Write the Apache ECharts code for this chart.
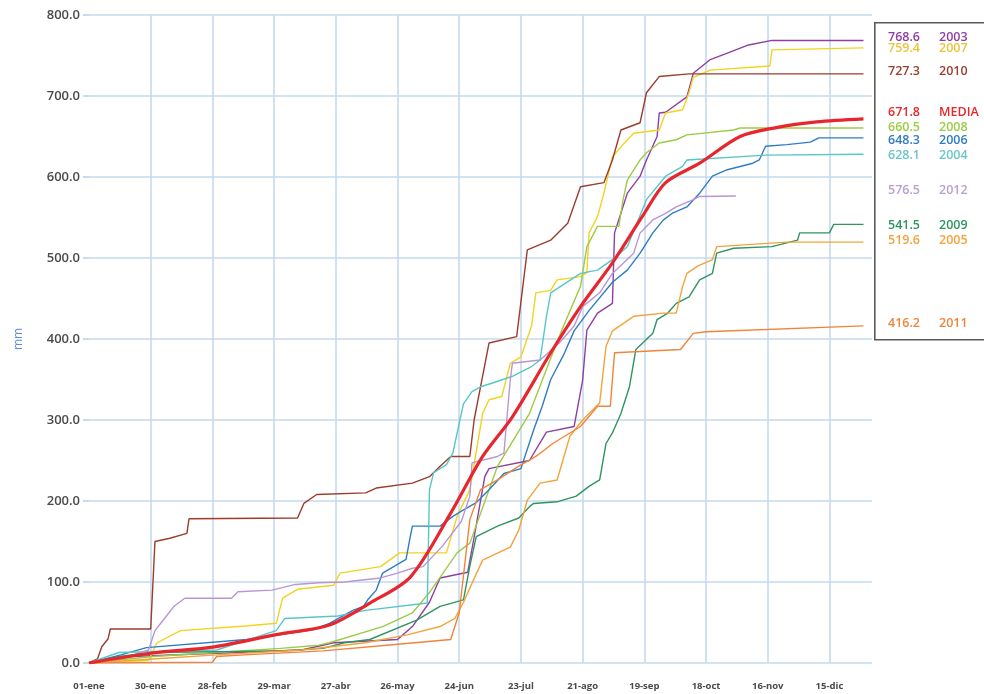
<!doctype html>
<html>
<head>
<meta charset="utf-8">
<script src="https://cdn.jsdelivr.net/npm/echarts@6/dist/echarts.min.js"></script>
<style>
    html, body { margin: 0; padding: 0; background: #fff; }
    #main { width: 984px; height: 694px; }
</style>
</head>
<body>
<div id="main"></div>
<script>
// x axis: day of year, ticks every 29 days
var tickLabels = ['01-ene', '30-ene', '28-feb', '29-mar', '27-abr', '26-may', '24-jun',
    '23-jul', '21-ago', '19-sep', '18-oct', '16-nov', '15-dic'];

// cumulative precipitation, [day, mm]
var s2003 = [[0,0],[20,8],[60,12],[100,16],[115,25],[145,29],[152,45],[160,75],[165,105],[178,112],[182,170],[186,230],[188,240],[207,250],[215,285],[228,292],[232,349],[234,411],[239,432],[246,444],[247,531],[253,580],[259,601],[262,621],[267,650],[268,679],[271,680],[281,699],[284,728],[292,745],[300,753],[310,763],[321,768.6],[364,768.6]];
var s2007 = [[0,0],[28,3],[32,25],[43,40],[75,46],[88,49],[91,80],[98,91],[115,96],[118,111],[137,119],[146,136],[168,136],[173,181],[179,214],[185,308],[188,325],[194,329],[198,370],[203,378],[208,416],[210,457],[217,460],[220,473],[231,477],[234,482],[235,531],[239,551],[242,580],[246,625],[251,640],[256,654],[268,658],[271,679],[279,683],[282,704],[284,723],[292,732],[320,737],[321,757],[364,759.4]];
var s2010 = [[0,0],[4,5],[6,20],[9,30],[10,42],[29,42],[31,150],[38,154],[46,160],[47,178],[98,179],[101,197],[107,208],[130,210],[135,216],[152,222],[160,230],[165,243],[170,255],[179,255],[181,300],[188,395],[201,403],[206,510],[217,522],[225,543],[231,588],[242,593],[246,621],[250,658],[259,667],[262,704],[268,724],[282,727.3],[364,727.3]];
var sMedia = [[0,0],[29,12],[59,20],[88,35],[113,47],[132,74],[151,106],[170,185],[185,255],[199,304],[217,383],[231,440],[246,494],[260,551],[271,593],[287,617],[306,650],[323,661],[342,668],[364,671.8]];
var s2008 = [[0,0],[30,8],[60,13],[90,18],[108,22],[113,25],[138,45],[152,62],[160,87],[173,136],[179,148],[192,243],[207,308],[218,383],[223,416],[231,465],[234,514],[239,539],[249,539],[251,572],[253,596],[259,621],[262,630],[268,642],[276,646],[281,652],[303,658],[306,660.5],[364,660.5]];
var s2006 = [[0,0],[15,10],[27,19],[74,29],[105,41],[113,49],[124,65],[129,70],[131,78],[135,90],[138,111],[149,128],[151,156],[152,169],[165,169],[171,181],[176,189],[182,198],[188,214],[195,234],[203,240],[209,288],[213,317],[217,350],[223,380],[228,410],[235,435],[246,470],[253,485],[259,506],[265,531],[270,547],[274,555],[281,563],[287,580],[293,601],[300,609],[312,617],[315,621],[318,638],[328,640],[339,643],[343,648.3],[364,648.3]];
var s2004 = [[0,0],[14,13],[60,16],[88,40],[92,55],[117,58],[130,65],[159,74],[160,214],[162,235],[168,245],[171,259],[174,296],[176,320],[180,335],[184,341],[190,346],[199,354],[208,366],[212,374],[215,428],[217,457],[231,481],[239,485],[246,498],[253,514],[262,572],[271,601],[279,613],[281,621],[318,627],[364,628.1]];
var s2012 = [[0,0],[15,5],[28,16],[31,40],[34,50],[40,70],[45,80],[67,80],[70,88],[86,90],[97,97],[108,99],[120,100],[137,105],[145,111],[152,117],[157,119],[166,144],[175,175],[179,206],[180,247],[192,255],[195,259],[198,350],[199,370],[212,374],[221,395],[228,416],[232,440],[240,457],[246,481],[256,506],[259,531],[265,547],[271,555],[276,563],[284,572],[287,576],[304,576.5]];
var s2009 = [[0,0],[14,8],[30,13],[90,15],[110,18],[120,25],[132,29],[154,53],[165,70],[176,78],[179,120],[182,156],[192,169],[202,179],[207,193],[209,197],[220,199],[229,206],[235,218],[240,226],[243,271],[246,284],[250,308],[254,341],[257,387],[265,407],[267,424],[272,432],[276,444],[282,452],[287,473],[293,481],[295,506],[303,512],[321,514],[333,522],[334,531],[348,531],[350,541.5],[364,541.5]];
var s2005 = [[0,0],[30,5],[60,10],[100,16],[130,25],[150,35],[165,45],[172,55],[176,75],[182,110],[185,127],[198,143],[202,164],[206,201],[212,222],[220,226],[226,280],[232,300],[240,321],[243,391],[246,410],[256,428],[270,432],[276,432],[279,465],[281,481],[286,490],[293,498],[295,514],[328,519.6],[364,519.6]];
var s2011 = [[0,0],[58,1],[60,8],[73,10],[110,15],[140,22],[170,29],[174,62],[179,177],[184,214],[192,226],[202,243],[210,255],[218,271],[231,292],[239,317],[245,317],[247,383],[278,387],[284,407],[290,409],[364,416.2]];

var seriesNames = ['2003', '2007', '2010', '2008', '2006', '2004', '2012', '2009', '2005', '2011', 'MEDIA'];
var seriesData = [s2003, s2007, s2010, s2008, s2006, s2004, s2012, s2009, s2005, s2011, sMedia];
var seriesTotals = ['768.6', '759.4', '727.3', '660.5', '648.3', '628.1', '576.5', '541.5', '519.6', '416.2', '671.8'];

// styles
var colors = {
    '2003': '#8e3fa0', '2007': '#f2d31f', '2010': '#9a3d2c', '2008': '#9dcb45',
    '2006': '#2f7cc3', '2004': '#58c6c9', '2012': '#b995d6', '2009': '#2f9460',
    '2005': '#f2a43a', '2011': '#f0853a', 'MEDIA': '#e8262d'
};
var legendColors = {
    '2007': '#e9c43a', '2004': '#6cc6c8', '2012': '#b9a0d0'
};
// vertical centre of each legend row, px
var legendRowY = {
    '2003': 37, '2007': 48, '2010': 71, 'MEDIA': 112, '2008': 127, '2006': 140,
    '2004': 155, '2012': 190, '2009': 225, '2005': 240, '2011': 323
};

var chart = echarts.init(document.getElementById('main'));

var series = seriesNames.map(function (name, i) {
    var isMedia = name === 'MEDIA';
    return {
        name: name,
        type: 'line',
        data: seriesData[i],
        showSymbol: false,
        smooth: isMedia ? 0.3 : false,
        z: isMedia ? 5 : 2,
        lineStyle: { color: colors[name], width: isMedia ? 3.2 : 1.4 },
        itemStyle: { color: colors[name] }
    };
});

var legendOrder = ['2003', '2007', '2010', 'MEDIA', '2008', '2006', '2004', '2012', '2009', '2005', '2011'];
var graphics = [{
    type: 'rect',
    left: 874, top: 22,
    shape: { width: 130, height: 317 },
    style: { fill: '#fff', stroke: '#5a5a5a', lineWidth: 1.6 },
    z: 10
}];
legendOrder.forEach(function (name) {
    var idx = seriesNames.indexOf(name);
    var c = legendColors[name] || colors[name];
    graphics.push({
        type: 'text', x: 888, y: legendRowY[name], z: 11,
        style: {
            text: seriesTotals[idx], fill: c, font: '600 12.5px "Open Sans"',
            verticalAlign: 'middle'
        }
    });
    graphics.push({
        type: 'text', x: 939, y: legendRowY[name], z: 11,
        style: {
            text: name, fill: c, font: '600 12.5px "Open Sans"',
            verticalAlign: 'middle'
        }
    });
});

chart.setOption({
    animation: false,
    grid: { left: 89, right: 112, top: 15, bottom: 31 },
    xAxis: {
        type: 'value',
        min: 0,
        max: 368,
        interval: 29,
        axisLine: { show: false },
        axisTick: { show: false },
        axisLabel: {
            margin: 18,
            color: '#4a4a4a',
            fontFamily: 'Open Sans',
            fontWeight: 'bold',
            fontSize: 9.5,
            showMaxLabel: false,
            formatter: function (v) {
                var k = Math.round(v / 29);
                return (v % 29 === 0 && tickLabels[k]) ? tickLabels[k] : '';
            }
        },
        splitLine: {
            show: true,
            showMinLine: false,
            showMaxLine: false,
            lineStyle: { color: '#c6daed', width: 1.6 }
        }
    },
    yAxis: {
        type: 'value',
        min: 0,
        max: 800,
        interval: 100,
        name: 'mm',
        nameLocation: 'middle',
        nameGap: 64,
        nameTextStyle: { color: '#5b8fd4', fontFamily: 'Open Sans', fontSize: 12 },
        axisLine: { show: false },
        axisTick: { show: true, length: 6, lineStyle: { color: '#bcd3ea', width: 1.6 } },
        axisLabel: {
            margin: 9,
            color: '#4a4a4a',
            fontFamily: 'Open Sans',
            fontWeight: 600,
            fontSize: 13,
            formatter: function (v) { return v.toFixed(1); }
        },
        splitLine: { lineStyle: { color: '#c6daed', width: 1.6 } }
    },
    series: series,
    graphic: graphics
});

window.onresize = chart.resize;
</script>
</body>
</html>
